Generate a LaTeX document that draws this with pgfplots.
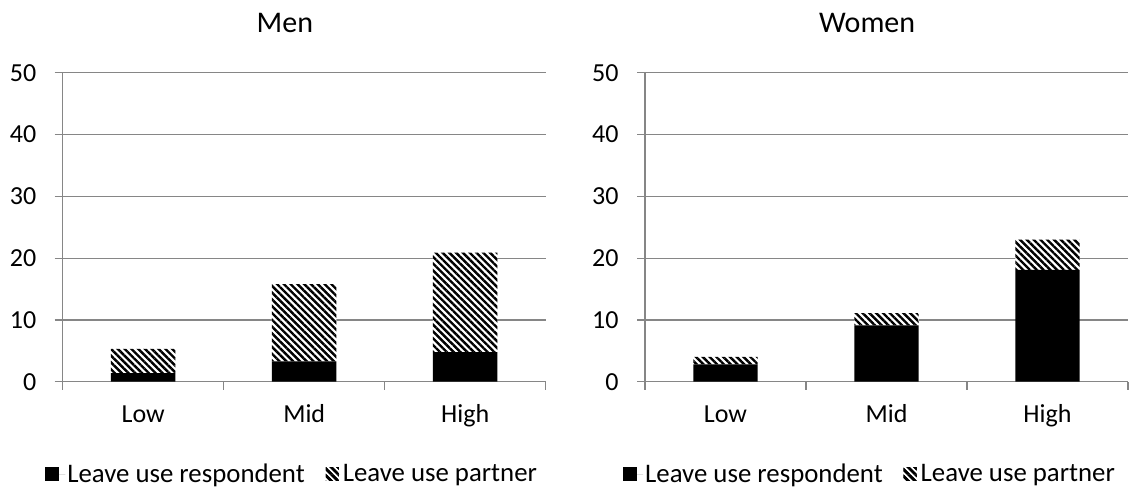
\documentclass[border=0pt]{standalone}
\usepackage{fontspec}
\setmainfont{Carlito}
\usepackage{pgfplots}
\pgfplotsset{compat=1.18}
\usetikzlibrary{patterns.meta}
\definecolor{axgray}{HTML}{868686}

\pgfplotstableread{
x resp partner
0 1.4 3.9
1 3.3 12.5
2 4.8 16.1
}\men
\pgfplotstableread{
x resp partner
0 2.8 1.2
1 9.1 2.0
2 18.1 4.9
}\women

\pgfplotsset{
  panel/.style={
    scale only axis, width=241.5pt, height=154.5pt,
    ybar stacked, bar width=0.4,
    xmin=-0.5, xmax=2.5, ymin=0, ymax=50, ytick={0,10,...,50},
    axis x line=bottom, axis y line=left,
    axis line style={axgray,-, line width=0.6pt},
    ymajorgrids, grid style={axgray, line width=0.6pt},
    tick align=outside, major tick length=4pt,
    tick style={axgray, line width=0.6pt},
    xtick={-0.5,0.5,1.5,2.5}, xticklabels={,,,},
    extra x ticks={0,1,2}, extra x tick labels={Low,Mid,High},
    extra x tick style={tick style={draw=none}},
    /pgf/number format/assume math mode=true,
    yticklabel style={anchor=east, inner sep=0pt, xshift=-9pt},
    xticklabel style={anchor=base, inner sep=0pt, yshift=-16.6pt},
    legend columns=2,
    legend style={draw=none, fill=none, anchor=center,
      font=\fontsize{13.4}{16}\selectfont,
      /tikz/every even column/.append style={column sep=9.5pt},
      nodes={inner sep=1pt}},
    title style={anchor=base, yshift=14pt, font=\fontsize{15}{18}\selectfont},
  },
  resp/.style={fill=black, draw=none,
    legend image code/.code={\fill[black] (0pt,-3.2pt) rectangle (7pt,3.8pt);
      \path (0pt,0pt) -- (10pt,0pt);}},
  part/.style={fill=white, draw=none,
    postaction={pattern={Lines[angle=-45,distance=2.4pt,line width=1.2pt]}, pattern color=black},
    legend image code/.code={\fill[white] (0pt,-3.2pt) rectangle (6.5pt,3.3pt);
      \fill[pattern={Lines[angle=-45,distance=2.4pt,line width=1.2pt]}, pattern color=black] (0pt,-3.2pt) rectangle (6.5pt,3.3pt);
      \path (0pt,0pt) -- (7.5pt,0pt);}},
}

\begin{document}
\begin{tikzpicture}[font=\fontsize{13}{15.6}\selectfont]
\begin{axis}[panel, at={(31.35pt,53.65pt)}, anchor=south west,
  title={Men}, title style={at={(0.46,1)}},
  legend style={at={(0.475,-0.30)}}]
\addplot[resp] table[x=x,y=resp]{\men};
\addplot[part] table[x=x,y=partner]{\men};
\legend{Leave use respondent, Leave use partner}
\end{axis}
\begin{axis}[panel, at={(322.5pt,53.65pt)}, anchor=south west,
  title={Women}, title style={at={(0.46,1)}},
  legend style={at={(0.466,-0.30)}}]
\addplot[resp] table[x=x,y=resp]{\women};
\addplot[part] table[x=x,y=partner]{\women};
\legend{Leave use respondent, Leave use partner}
\end{axis}
\pgfresetboundingbox
\path (0pt,0pt) rectangle (565.5pt,244.5pt);
\end{tikzpicture}
\end{document}
